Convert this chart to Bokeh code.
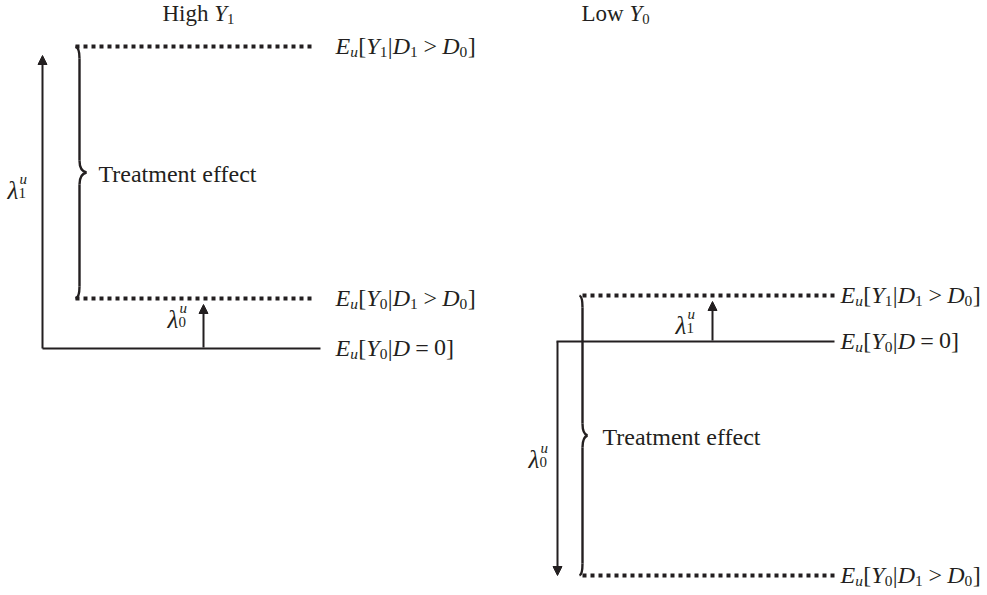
from bokeh.plotting import figure
from bokeh.models import Range1d, Arrow, NormalHead, ColumnDataSource
from bokeh.core.properties import value
from bokeh.embed import file_html
from bokeh.resources import INLINE

# ---------------- data (diagram positions, in page pixels) ----------------
# panel 0 = "High Y1", panel 1 = "Low Y0"
title_x = [162, 581]
title_y = [21, 21]
# outcome levels of each panel
lvl_y1_treated = [46, 295]      # E_u[Y1 | D1 > D0]
lvl_y0_treated = [298, 575]     # E_u[Y0 | D1 > D0]
lvl_y0_untreated = [348, 341]   # E_u[Y0 | D = 0]
dotted_x0 = [75, 582]
dotted_x1 = [314, 834]
solid_x0 = [42, 556]
solid_x1 = [320, 834]
label_x = [335, 840]
# lambda arrows: big one from solid L, small one inside
big_arrow_x = [42, 557]
small_arrow_x = [203, 712]
big_lambda_sub = ["1", "0"]
small_lambda_sub = ["0", "1"]
big_lambda_pos = [(7, 198), (528, 467)]
small_lambda_pos = [(167, 327), (675, 333)]
# braces ("Treatment effect")
brace_end_x = [75, 579]
brace_stem_x = [79, 582]
brace_tip_x = [86, 587]
effect_x = [98, 602]

ink = "#231f20"
FONT = "Liberation Serif"
TEXT_SHIFT = -8   # renderer places alphabetic baseline lower than expected

METRICS = {
    "r": {"[": 0.333, "]": 0.333, "|": 0.2, ">": 0.564, "=": 0.564, "0": 0.5,
          "1": 0.5, " ": 0.25, "H": 0.722, "i": 0.278, "g": 0.5, "h": 0.5,
          "L": 0.611, "o": 0.5, "w": 0.722},
    "i": {"E": 0.611, "Y": 0.556, "D": 0.722, "u": 0.5, "λ": 0.55},
}

pieces = dict(x=[], y=[], text=[], size=[], style=[])


def put(x, y, txt, fs, style):
    pieces["x"].append(x)
    pieces["y"].append(y + TEXT_SHIFT)
    pieces["text"].append(txt)
    pieces["size"].append(f"{fs:.1f}px")
    pieces["style"].append(style)


def layout(runs, x, y, size):
    cx = x
    for txt, kind in runs:
        if kind == "rel":
            cx += 0.22 * size
            put(cx, y, txt, size, "normal")
            cx += sum(METRICS["r"].get(c, 0.5) for c in txt) * size + 0.22 * size
            continue
        if kind in ("r", "i"):
            fs, dy = size, 0
        else:
            fs, dy = size * 0.64, size * 0.25
        style = "italic" if kind in ("i", "subi") else "normal"
        met = METRICS["i"] if style == "italic" else METRICS["r"]
        put(cx, y + dy, txt, fs, style)
        cx += sum(met.get(c, 0.5) for c in txt) * fs + (0.5 if kind in ("sub", "subi") else 0)


def cond_label(ysub, x, y, size=24):
    layout([("E", "i"), ("u", "subi"), ("[", "r"), ("Y", "i"), (ysub, "sub"),
            ("|", "r"), ("D", "i"), ("1", "sub"), (">", "rel"), ("D", "i"),
            ("0", "sub"), ("]", "r")], x, y, size)


def untreated_label(x, y, size=24):
    layout([("E", "i"), ("u", "subi"), ("[", "r"), ("Y", "i"), ("0", "sub"),
            ("|", "r"), ("D", "i"), ("=", "rel"), ("0", "r"), ("]", "r")], x, y, size)


def lam(x, y, sub, size=25):
    put(x, y, "λ", size, "italic")
    put(x + 12, y - 12, "u", size * 0.6, "italic")
    put(x + 11, y + 2, sub, size * 0.6, "normal")


p = figure(width=987, height=595, x_range=Range1d(0, 987), y_range=Range1d(595, 0),
           output_backend="svg", toolbar_location=None, min_border=0,
           x_axis_location=None, y_axis_location=None)
p.grid.visible = False
p.outline_line_color = None
p.background_fill_color = "white"
p.border_fill_color = "white"

titles = [[("High ", "r"), ("Y", "i"), ("1", "sub")],
          [("Low ", "r"), ("Y", "i"), ("0", "sub")]]

for k in range(2):
    layout(titles[k], title_x[k], title_y[k], 23)

    # dotted lines (treated group outcomes)
    for lv in (lvl_y1_treated[k], lvl_y0_treated[k]):
        p.line([dotted_x0[k], dotted_x1[k]], [lv, lv], line_color=ink,
               line_width=4, line_dash="4 4", line_cap="butt")
    # solid line (untreated outcome)
    p.line([solid_x0[k], solid_x1[k]], [lvl_y0_untreated[k]] * 2,
           line_color=ink, line_width=2)

    # labels
    cond_label("1", label_x[k], lvl_y1_treated[k] + 7)
    cond_label("0", label_x[k], lvl_y0_treated[k] + 7)
    untreated_label(label_x[k], lvl_y0_untreated[k] + 7)

    # big lambda arrow: from untreated level toward the farther treated level
    target_big = lvl_y1_treated[k] if k == 0 else lvl_y0_treated[k]
    gap_big = 9 if k == 0 else 0
    p.add_layout(Arrow(end=NormalHead(size=9, fill_color=ink, line_color=ink, line_width=1),
                       x_start=big_arrow_x[k], y_start=lvl_y0_untreated[k],
                       x_end=big_arrow_x[k], y_end=target_big + gap_big,
                       line_color=ink, line_width=2))
    # small lambda arrow
    target_small = lvl_y0_treated[k] if k == 0 else lvl_y1_treated[k]
    p.add_layout(Arrow(end=NormalHead(size=9, fill_color=ink, line_color=ink, line_width=1),
                       x_start=small_arrow_x[k], y_start=lvl_y0_untreated[k] - 1,
                       x_end=small_arrow_x[k], y_end=target_small + 6,
                       line_color=ink, line_width=2))
    lam(big_lambda_pos[k][0], big_lambda_pos[k][1], big_lambda_sub[k])
    lam(small_lambda_pos[k][0], small_lambda_pos[k][1], small_lambda_sub[k])

    # brace between treated outcomes
    yt, yb = lvl_y1_treated[k], lvl_y0_treated[k]
    ym = (yt + yb) / 2
    xe, xv, xt = brace_end_x[k], brace_stem_x[k], brace_tip_x[k]
    r = 12
    bx0 = [xe, xv, xv, xe]
    by0 = [yt, ym - r, ym + r, yb]
    bx1 = [xv, xt, xt, xv]
    by1 = [yt + r, ym, ym, yb - r]
    cx0 = [xv - 0.5, xv, xv, xv - 0.5]
    cy0 = [yt + 1, ym - r * 0.35, ym + r * 0.35, yb - 1]
    cx1 = [xv, xv + (xt - xv) * 0.35, xv + (xt - xv) * 0.35, xv]
    cy1 = [yt + r * 0.5, ym - 1, ym + 1, yb - r * 0.5]
    p.bezier(x0=bx0, y0=by0, x1=bx1, y1=by1, cx0=cx0, cy0=cy0, cx1=cx1, cy1=cy1,
             line_color=ink, line_width=2.4)
    p.segment(x0=[xv, xv], y0=[yt + r, ym + r], x1=[xv, xv], y1=[ym - r, yb - r],
              line_color=ink, line_width=2.4)
    layout([("Treatment effect", "r")], effect_x[k], ym + 9, 24)

src = ColumnDataSource(pieces)
p.text(x="x", y="y", text="text", source=src, text_font=value(FONT),
       text_font_size="size", text_font_style="style", text_color=ink,
       text_align="left", text_baseline="alphabetic")

open("out.html", "w").write(file_html(p, INLINE))
